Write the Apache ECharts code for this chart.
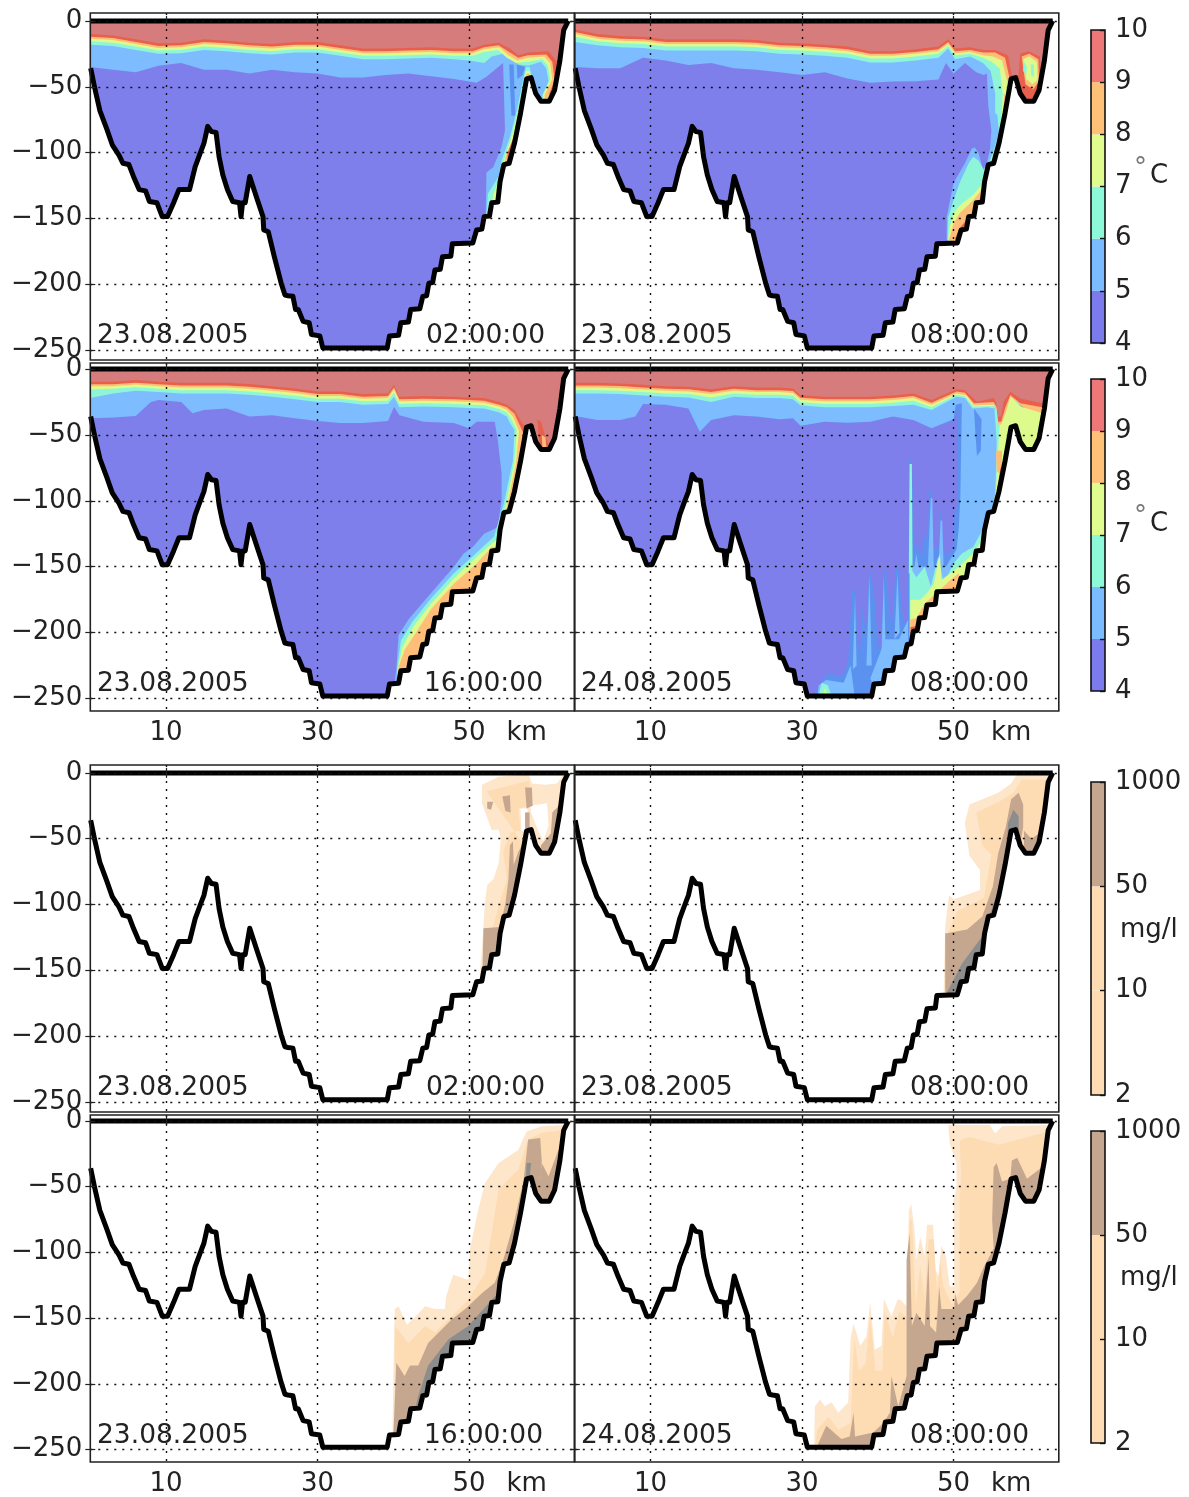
<!DOCTYPE html>
<html><head><meta charset="utf-8">
<style>html,body{margin:0;padding:0;background:#fff}#c{width:1189px;height:1497px;filter:blur(.7px)}</style>
<script src="https://cdn.jsdelivr.net/npm/echarts@6/dist/echarts.min.js"></script>
</head><body><div id="c"></div>
<script>
// ---------- bathymetry (km, depth m) ----------
const bathyKm=[0.05,0.55,1.26,2.17,2.9,3.8,4.3,5.1,5.7,6.45,7.3,7.8,8.8,9.5,10.2,11,11.7,13.1,13.85,14.5,15,15.5,16,16.6,17,17.5,18.1,18.8,19.7,19.9,20.1,20.45,21.05,21.9,22.8,22.9,23.5,24.3,25.2,25.7,26.1,26.75,27.1,27.45,28.1,28.9,29.2,30.3,30.7,39.2,39.5,40.7,41,42,42.3,43.5,43.9,44.4,44.7,45.2,45.5,46.2,46.5,47.6,47.8,50.5,51,51.7,52,52.7,53,53.8,54.1,54.6,55.3,56,56.8,57.6,58.2,58.8,59.5,60.6,61.3,62,62.5,63.1];
const bathyDepth=[-36,-50,-68,-82,-94,-102,-108,-109,-118,-128,-129,-137,-138,-148.5,-148.5,-138,-128,-128,-110.6,-100.5,-93,-80,-84,-84.6,-103,-117,-128,-137,-138,-148.5,-138,-138,-118,-133,-148.5,-158.6,-160,-179,-199,-208,-208.5,-209,-219,-219,-228,-229,-238,-239,-248.2,-248.2,-239,-238.5,-229,-228.5,-219,-218.5,-209,-208.5,-199,-198.5,-189,-188.5,-179,-178.5,-169,-168.5,-158.6,-158,-148.5,-148,-138,-137.5,-122,-109,-108,-93,-70,-44,-43,-55,-61,-61,-52.5,-30,-7,0];
const surfaceKm=[0,63.1], surfaceDepth=[0,0];

// ---------- temperature contours, 23.08 02:00 ----------
const t0Km=[0,3,6,9,12,15,18,21,24,27,30,33,36,39,42,45,48];
const t0c10=[-10,-11,-14,-17,-16.5,-14,-15,-16.5,-17.5,-16,-16,-18.5,-21,-21,-20.5,-20,-21];
const t0c9=[-12,-13,-16,-19,-18.5,-16,-17,-18.5,-19.5,-18,-18,-20.5,-23,-23,-22.5,-22,-23];
const t0c8=[-13.5,-14.5,-17.5,-20.5,-20,-17.5,-18.5,-20,-21,-19.5,-19.5,-22,-24.5,-24.5,-24,-23.5,-24.5];
const t0c7=[-15.5,-16.5,-19.5,-22.5,-22,-19.5,-20.5,-22,-23,-21.5,-21.5,-24,-26.5,-26.5,-26,-25.5,-26.5];
const t0c6=[-18,-19,-22,-25,-24.5,-22,-23,-24.5,-25.5,-24,-24,-26.5,-29,-29,-28.5,-28,-29];
const t0c5=[-35,-37,-39,-34,-32,-37,-37,-40,-37,-39,-40,-43,-43,-41,-40,-42,-44];
const t0e10=[50.5,-21,52,-18,53.9,-16.5,55.4,-21,56.5,-26,57.8,-24,60.5,-23,61.6,-31,61.8,-46,61.6,-62,64,-62];
const t0e9=[50.5,-23,52,-20,53.9,-18.5,55.4,-24,56.5,-28,57.8,-26,60.2,-25.5,61,-31,61.3,-45,60.6,-55,60.8,-66,64,-66];
const t0e8=[50.5,-24.5,52,-21.5,54,-20,55.2,-26,56.4,-30,57.8,-28,59.9,-27,60.7,-32,61,-44,60,-56,60,-66,64,-66];
const t0e7=[50.5,-26.5,52,-23.5,53.8,-22,55,-28,56.2,-32,57.8,-31,59.7,-29,60.4,-34,60.7,-44,59.8,-56,59.8,-66,64,-66];
const t0e6=[50,-30,52,-32,53,-27,54.5,-25,55.5,-28,56.5,-33,57.8,-34,59.5,-31,60.2,-36,60.5,-46,59.7,-56,59.7,-66,64,-66];
const t0e5=[51,-47,52.3,-42.3,54.5,-32,54.75,-83,54.3,-95.5,53.2,-111,52.3,-115,52.2,-147.5,53,-155,64,-155];
const t0mid=[55.3,-33,55.9,-33,56.1,-72,55.6,-72];
const t0mid2=[56.3,-33,57.4,-35,57.1,-41,56.4,-44];
const t0p6=[57.5,-35,56.3,-68,55.4,-88,54.3,-106,53.9,-118,52.5,-131,52.3,-147,53.5,-152,59,-60,58,-35];
const t0p7=[57.5,-38,56.5,-68,55.6,-88,54.6,-106,54.1,-118,53.2,-132,52.8,-147,53.5,-152,59,-60,58,-38];
const t0p8=[57.6,-40,56.6,-68,55.9,-88,54.8,-104,54.5,-118,56,-118,59,-60,58,-40];
const t0p9=[57.6,-42,56.8,-66,56.1,-85,55.1,-100,55,-112,56,-118,59,-60,58,-42];

// ---------- temperature contours, 23.08 08:00 ----------
const t1Km=[0,3,6,9,12,15,18,21,24,27,30,33,36,39,42,45,48];
const t1c10=[-6.5,-10,-11.5,-12,-14,-14,-14,-14,-14.5,-16.5,-17,-18,-19.5,-23,-23,-21.5,-19.5];
const t1c9=[-8.5,-12,-13.5,-14,-16,-16,-16,-16,-16.5,-18.5,-19,-20,-21.5,-25,-25,-23.5,-21.5];
const t1c8=[-10,-13.5,-15,-15.5,-17.5,-17.5,-17.5,-17.5,-18,-20,-20.5,-21.5,-23,-26.5,-26.5,-25,-23];
const t1c7=[-12,-15.5,-17,-17.5,-19.5,-19.5,-19.5,-19.5,-20,-22,-22.5,-23.5,-25,-28.5,-28.5,-27,-25];
const t1c6=[-16,-18.5,-20,-20.5,-22.5,-22.5,-22.5,-22.5,-23,-25,-25.5,-26.5,-28,-31.5,-31.5,-30,-28];
const t1c5=[-35,-36,-36,-28,-30,-33.5,-32,-36,-37,-39,-41,-39,-43.7,-47,-46,-45.7,-44.5];
const t1e10=[49.3,-14,50.2,-21,52.2,-20,53.9,-22,55.5,-22,57.2,-26,57.7,-41,58.6,-41,58.8,-25,59.9,-23,61.4,-27,61.7,-47,61.9,-62,64,-62];
const t1e9=[49.3,-16,50.2,-23,52.2,-22,53.9,-24,55.5,-24,56.8,-28,57.3,-41,58,-62,64,-62];
const t1e8=[49.3,-17.5,50.2,-24.5,52.2,-23.5,53.9,-26,55.2,-27,56.4,-30,57,-44,58,-62,64,-62];
const t1e7=[49.3,-19,50.2,-26,52.2,-25,53.9,-28,55,-31,56.1,-36,56.5,-55,58,-62,64,-62];
const t1e6=[49.3,-21,50.2,-29,52.2,-27,53.9,-32,54.9,-38,55.5,-55,55.5,-70,57,-75,64,-62];
const t1e5=[49,-32,50,-40,51.5,-32,53,-39,54,-41,54.4,-40,54.6,-65,55,-83,54.8,-98,54.4,-108,53.9,-113,53.3,-100,52.8,-96,52.4,-97,51.5,-108,50,-123,49.1,-149,49.1,-166,50,-172,64,-172];
const t1p6=[55.6,-60,56,-85,55.2,-100,54.6,-108,54,-113,53.3,-106,52.6,-103,52,-108,50.8,-123,50,-136,49.3,-149,49.2,-166,50,-172,53,-160,58,-70];
const t1p7=[56.5,-55,56.2,-85,55.5,-100,54.9,-108,54.2,-120,53.9,-123,52.6,-132,50.8,-140,50,-146,49.5,-156,49.3,-166,50,-172,53,-160,58,-70];
const t1p8=[56.7,-55,56.4,-85,55.7,-100,55,-112,54.3,-124,52.6,-136,50.8,-146,50,-154,49.4,-166,50,-172,53,-160,58,-70];
const t1p9=[56.9,-60,56.5,-88,55.9,-100,55.2,-110,54.6,-118,53,-142,51,-156,50.2,-165,50.5,-172,53,-160,58,-70];
const t1b8=[59,-27,60,-25,61.2,-29,61.3,-46,60.5,-52,59.5,-48];
const t1b7=[59.2,-29,60,-27,61,-31,61.1,-45,60.4,-48,59.6,-44];
const t1b6=[59.3,-31,59.7,-35,59.6,-41,59.2,-38];
const t1b6b=[60.2,-33,60.6,-33,60.6,-42,60.3,-42];

// ---------- temperature contours, 23.08 16:00 ----------
const t2Km=[0,3,6,9,12,15,18,21,24,27,30,33,36,39.3,40.1,40.8,44,48];
const t2c10=[-9.6,-9.6,-8.3,-9.6,-10.4,-10.4,-10.4,-11.4,-13,-14.7,-17,-17,-19,-18.5,-12,-21,-20.5,-21];
const t2c9=[-11.6,-11.6,-10.3,-11.6,-12.4,-12.4,-12.4,-13.4,-15,-16.7,-19,-19,-21,-20.5,-14,-23,-22.5,-23];
const t2c8=[-13,-13,-11.8,-13,-14,-14,-14,-15,-16.5,-18.2,-20.5,-20.5,-22.5,-22,-15.5,-24.5,-24,-24.5];
const t2c7=[-15.5,-15,-13.8,-15,-16,-16,-16,-17,-18.5,-20.2,-22.5,-22.5,-24.5,-24,-18,-26.5,-26,-26.5];
const t2c6=[-22,-18.5,-16.5,-17.5,-18.5,-18.5,-18.5,-19.5,-21,-23,-25,-25,-27,-26.5,-21,-29,-28.5,-29];
const t2c5Km=[0,3,6,8,9,12,13.5,15,18,21,24,27,30,33,36,39.3,40.1,40.8,44,48];
const t2c5=[-37.4,-36.7,-35.7,-25,-23.5,-25,-33.6,-31,-30,-36,-35,-37.4,-39.5,-41,-41,-39.5,-28.6,-35,-40,-41];
const t2e10=[50,-21.5,52,-22,54,-25,55,-27,56,-31,57,-41,57.5,-44,58,-70,64,-70];
const t2e9=[50,-23.5,52,-24,54,-27,55,-29,56,-34,56.8,-44,57.3,-50,58,-70,64,-70];
const t2e8=[50,-25,52,-25.5,54,-28.5,55,-31,55.8,-36,56.6,-47,56.2,-72,55.1,-102,54.5,-116,58,-120,64,-70];
const t2e7=[50,-27,52,-27.5,54,-30.5,55,-33,55.6,-38,56.3,-46,56,-70,54.9,-102,54.2,-116,58,-120,64,-70];
const t2e6=[50,-29.5,52,-30,54,-33,55,-36,55.4,-41,56,-46,55.8,-69,54.6,-102,53.3,-127,50.5,-142,48,-155,45,-174,42.5,-192,41,-206,40.5,-228,40.5,-250,64,-250];
const t2e5=[50,-45,51,-40,53.4,-40,53.8,-54,54.3,-79,54.3,-99.4,53.8,-120,52,-125,50.5,-135,49.3,-140,48,-150,45,-170,42,-190,40.7,-202,40.4,-228,40.2,-237,40.2,-258,64,-258];
const t2p7=[53.5,-130,50.5,-145,48,-159,45,-178,42.7,-195,41.2,-211,40.6,-227,40.6,-250,50,-250,56,-135];
const t2p8=[53,-135,51,-147.5,48,-163,45,-182,43,-200,41.5,-213,40.7,-226,40.7,-250,50,-250,56,-135];
const t2p9=[57.3,-50,56.4,-75,55.3,-103,54.7,-112,58,-112];
const t2b9=[59,-38,59.5,-40,60,-50,60.6,-58,59.4,-62];
const t2b8=[59.6,-50,60.1,-52,60.2,-60,59.7,-60];

// ---------- temperature contours, 24.08 08:00 ----------
const t3Km=[0,3,6,9,12,15,18,21,24,27,28.8,29.8,33,36,39,42,44.7,47.1];
const t3c10=[-10.4,-10.4,-10.9,-12,-13,-13.4,-15.4,-13,-14,-14,-14.7,-19.7,-21,-21,-21,-20,-18.5,-23.5];
const t3c9=[-12.4,-12.4,-12.9,-14,-15,-15.4,-17.4,-15,-16,-16,-16.7,-21.7,-23,-23,-23,-22,-20.5,-25.5];
const t3c8=[-14,-14,-14.5,-15.5,-16.5,-17,-19,-16.5,-17.5,-17.5,-18.2,-23.2,-24.5,-24.5,-24.5,-23.5,-22,-27];
const t3c7=[-16,-16,-16.5,-17.5,-18.5,-19,-21.5,-18.5,-19.5,-19.5,-20.2,-25.2,-26.5,-26.5,-26.5,-25.5,-24,-29];
const t3c6=[-18.5,-18.5,-19,-20,-21,-21.5,-25,-21,-22,-22,-23,-27.5,-29,-29,-29,-28,-27,-31];
const t3c5Km=[0,3,6,8,9,12,15,16.5,18,21,24,27,28.8,29.8,33,36,39,42,44.7,47.1];
const t3c5=[-35.7,-38.7,-38.7,-36,-26.5,-27,-30,-47.5,-38.7,-35,-36,-38,-37.4,-43,-40,-40.7,-40,-36,-38.7,-45];
const t3e10=[50.4,-15.4,51.5,-16,53.1,-24.8,55.3,-22,55.6,-25,55.9,-36,56.3,-36,56.6,-25,57.5,-17.2,58.8,-22.3,61.7,-26,62,-31,64,-31];
const t3e9=[50.4,-17,51.5,-18,52.7,-26,55.3,-25,55.7,-29,55.9,-40,56.3,-40,56.8,-30,57.5,-19.7,58.8,-26,61.7,-29,62,-31,64,-31];
const t3e8=[50.4,-18.5,51.7,-20,52.7,-27.5,55.3,-27,55.7,-31,55.9,-42,56.3,-42,56.9,-33,57.5,-21,59.2,-29,61.7,-33.6,62,-35,64,-35];
const t3e7=[50.4,-19.5,51.6,-21,52.6,-28.5,55.3,-28,57,-24,64,-28];
const t3e6=[50.4,-21,51.5,-22,52.5,-30,54.5,-29,55.4,-30,57,-26,64,-30];
const t3sky=[50,-39,50.6,-29,50.5,-102,50.1,-112,49.9,-137,48.9,-142,48.6,-127,48.3,-107,48,-135,47.4,-137,47.1,-92,46.8,-92,46.6,-130,46.1,-125,45.8,-145,45.4,-132,44.9,-140,44.5,-68,44.2,-68,44,-163,43.9,-203,43.2,-183,42.7,-149,42.4,-150,41.8,-198,41.3,-163,40.8,-150,40.5,-211,40.1,-211,39.4,-165,38.9,-151,38.4,-203,38,-179,37.6,-223,37,-168,36.6,-168,36.1,-221,35.5,-233,33.3,-231,32.4,-239,31.7,-247,31.7,-258,64,-258];
const t3light=[50,-38,50.3,-27,51.1,-26,50.9,-97,50.7,-120,50.4,-137,49.5,-145,49,-150,44.6,-150,44.6,-200,64,-200];
const t3lobe=[52.7,-30,53.7,-38,53.6,-62,53.1,-66,52.9,-50];
const t3core1=[47,-98,47.2,-98,47.4,-152,46.6,-152];
const t3core2=[48.3,-115,48.5,-115,48.7,-152,48,-152];
const t3core3=[45.1,-140,45.4,-152,44.8,-152];
const t3core4=[42.6,-155,42.9,-200,42.2,-205];
const t3core5=[40.8,-157,41,-205,40.5,-215];
const t3core6=[38.9,-157,39.2,-225,38.5,-225];
const t3core7=[37,-172,37.2,-225,36.7,-228];
const t3lump5=[32.2,-240,33.2,-236,35.5,-238,36.4,-225,37,-250,32,-250];
const t3lump5b=[41,-205,42.8,-205,44,-190,44,-215,40,-245,39,-235];
const t3lump6=[32.2,-248,32.6,-238,33.4,-240,33.9,-248];
const t3lump7=[32.8,-248,33,-242,33.5,-248];
const t3strip=[44.2,-72,44.5,-72,44.6,-155,44.1,-155];
const t3low6=[44.2,-150,45.1,-158,46.2,-150,47,-165,48,-142,48.7,-163,50,-147.5,51.1,-140,52.6,-135,54,-120,55.1,-107,55.5,-97,55.7,-55,55.4,-30,57,-28,58,-70,55,-130,50,-178,44.2,-215];
const t3low7=[44.3,-175,45.6,-175,46.5,-170,47.4,-163,48.2,-140,48.4,-160,50,-153,51.3,-147,52.6,-140,54,-127,55.1,-107,55.6,-92,56,-51,56.1,-41,57,-29,57.5,-22,58.4,-26,59,-29,64,-32,64,-70,58,-70,55,-130,50,-178,44.3,-215];
const t3low8=[44.3,-190,45.1,-189,46.2,-178,49.6,-160,50.7,-155,51,-175,44.3,-215];
const t3low9=[44.3,-196,45,-195,44.4,-208];
const t3sl8=[55.6,-62,56.4,-62,56.4,-80,55.7,-78];
const t3sl9=[56.2,-75,56.8,-75,56,-92,55.8,-90];

// ---------- sediment contours ----------
const s0outer=[53.9,-3,57.9,-1,58.3,-8,60.1,-9,61.6,-8,62.5,-1,64,-1,64,-160,51.5,-160,51.5,-147,51.7,-134,52.1,-99,52.4,-85,53.2,-81,53.9,-69,54.2,-50,53.9,-43,53,-43.5,51.7,-23,51.7,-9];
const s0hole1=[56.8,-27,57.7,-27,57.9,-45,56.9,-44];
const s0hole2=[58.1,-25,60.3,-23,60.5,-40,59.8,-52,59,-42,58.2,-30];
const s0mid=[52.3,-14,57.9,-6,58.3,-25,56.5,-27,56.8,-44,55.5,-45,54.5,-60,55,-80,54,-100,53,-120,52.3,-130,52.2,-150,54,-140,57,-90,56.5,-70,57,-50,57.9,-60];
const s0dark=[51.8,-147,51.9,-118,54.1,-117,54.8,-99,55.2,-81,55.4,-55,55.8,-52,55.9,-70,56.5,-60,58,-44,57,-90,54,-140,52,-155];
const s0d1=[52.4,-22,53.2,-22,52.9,-28,52.4,-27];
const s0d2=[54.4,-18,55.4,-17,55.5,-30,54.8,-29];
const s0d3=[57.4,-11,58.3,-11,58.4,-25,57.6,-27];
const s0d4=[57.4,-30,58,-30,58,-42,57.4,-42];
const s0d5=[61,-30,62,-24,62.4,-45,61,-65,59.5,-65,59.5,-55,60.8,-46];

const s1outer=[58.3,-1.5,62,-1.5,64,-1,64,-175,48.7,-175,48.7,-166,48.9,-117,49.4,-93,50.1,-96,53.5,-89,53.5,-74,52.1,-63,51.5,-38,52.1,-24,55.9,-15,57.6,-8];
const s1mid=[59,-5,62.5,-5,64,-80,50,-175,49.3,-166,49.4,-120,50.5,-105,54,-95,55,-62,53.8,-55,53,-30,56,-22,57.9,-15];
const s1dark=[48.9,-166,48.9,-122,51.8,-119,53.8,-109,55.2,-86,55.9,-61,56.9,-41,57.6,-20,58.6,-15,59.2,-24,59.2,-41,58,-80,50,-175];
const s1d2=[59.3,-44,60.3,-50,61.5,-45,61.8,-65,59.3,-65];
const s1gray=[49,-168,51.1,-145,53.8,-124,55.5,-96,56.9,-66,57.2,-38,57.9,-28,58.6,-33,58.6,-41,57.5,-90,53,-160,50,-175];

const s2outer=[39.9,-237,40,-197,40.2,-143,40.7,-141,41.8,-155,42.9,-149,44.2,-141,45.5,-143,46.8,-143,47,-133,47.9,-117,49.9,-121,50.1,-98,51.2,-68,52.1,-47.3,53.9,-32,56.5,-22,57.6,-8,59.6,-4,62.5,-3,63.2,-1,64,-1,64,-250,39.9,-250];
const s2mid=[40.2,-240,40.2,-156,42,-169,44.2,-156,45.5,-161,48.2,-146,49.9,-136,52.1,-116,53,-85,53.9,-52,56.5,-37,57.8,-14,59.6,-9,62.2,-7,64,-3,64,-250];
const s2dark=[40,-240,40.4,-184,41.5,-194,42.2,-186,43.3,-186,44.6,-169,47.7,-151,49.5,-143,51.7,-131,53.4,-123,54.5,-106,55.9,-78,57.2,-45,57.8,-14,59.4,-13,59.6,-30,59.4,-50,59,-75,44,-250,40,-250];
const s2d2=[59.6,-32,60.5,-42,61.8,-22,62.2,-17,63,-30,62,-70,59,-70];
const s2gray=[43.3,-209,44.6,-186,47.3,-166,49.9,-156,52.1,-142,54.1,-129,56,-125,53,-160,45,-215,42,-240];
const s2g2=[57.5,-45,57.6,-32,58.2,-32,58,-44];

const s3outer=[62.8,-3,56.4,-4,55.5,-9.4,54.8,-3,49.3,-3,49.5,-17,50.4,-32,50.4,-50,50,-60,50.1,-126,49.5,-126,49,-103,48.4,-95,48,-118,47.6,-113,47.3,-79,46.5,-79,46.2,-103,45.6,-88,45.1,-106,44.8,-80,44.4,-63,44.1,-68,43.8,-141,43,-136,42.6,-136,41.8,-149,40.8,-135,40.5,-171,39.6,-174,39,-138,38.5,-164,37.7,-171,36.8,-154,36.4,-166,36.1,-214,34.8,-222,33.9,-214,33,-217,32.4,-212,31.7,-217,31.6,-246,31.6,-258,64,-258,64,-3];
const s3mid=[62.5,-8,56,-18,52,-12,50.8,-15,51,-40,50.8,-60,50.8,-130,49.8,-140,48.6,-125,48.3,-105,47.8,-130,47.4,-90,46.7,-90,46.2,-135,45.6,-110,45,-140,44.5,-75,44.2,-75,44,-150,42.8,-145,42,-165,40.9,-145,40.6,-190,39.7,-190,39,-148,38.4,-185,37.5,-190,36.9,-165,36.4,-230,34.8,-235,33.5,-225,32,-235,31.7,-250,31.7,-258,64,-258,64,-8];
const s3dark=[64,-27,61.9,-27,61.7,-35,59.7,-44,58.4,-28,57.7,-30,57.5,-44,56.4,-46,55.7,-32,55.3,-35,55.1,-75,55.3,-97,54,-111,53.1,-123,51.8,-133,50.6,-140,50.2,-131,50.1,-143,48.4,-143,48.1,-126,47.7,-161,46.9,-156,46.7,-103,46.2,-156,45.1,-146,44.5,-156,44.2,-85,43.8,-106,43.8,-194,42.7,-217,41.8,-194,41.6,-222,40.7,-230,39.4,-237,37,-240,36.8,-222,36.3,-240,35.2,-242,33.2,-232,32.1,-246,32,-258,64,-258];

// ---------- labels ----------
const xTicks=[10,30,50], xUnitAt=57.6, xUnit='km';
const yTicks=[-250,-200,-150,-100,-50,0];
const tempLevels=[4,5,6,7,8,9,10];
const sedLevels=[2,10,50,1000];
const tempBands=[1,1,1,1,1,1];
const sedBands=[1,1,1];
const dates=['23.08.2005','23.08.2005','23.08.2005','24.08.2005'];
const times=['02:00:00','08:00:00','16:00:00','08:00:00'];

// ---------- styles ----------
const PUR='#7f7fec',MED='#5b92f0',LIG='#7cbcff',CYA='#8ef5d8',YEL='#ddfa8c',ORA='#ffbd78',RED='#e8604c',DRK='#d67c7c';
const SL='#fee6cb',SM='#fddcb4',SD='#c5a78f',SG='#8d8d8d';
const tempBarColors=['#7b7bee','#7abcff','#8ef9d9','#e0fb8e','#ffc078','#ee7878'];
const sedBarColors=['#fddcb4','#fddcb4','#c5a78f'];
const FONT='"DejaVu Sans"',FS=26,FS2=26.5,INK='#222';
const water=[0,0,64,0,64,-262,0,-262];

function band(km,d,tail){const p=[0,0];km.forEach((k,i)=>p.push(k,d[i]));return p.concat(tail,[64,0]);}

const panels=[
 [[PUR,water],[LIG,band(t0Km,t0c5,t0e5)],[MED,t0mid],[MED,t0mid2],[CYA,band(t0Km,t0c6,t0e6)],[CYA,t0p6],[YEL,band(t0Km,t0c7,t0e7)],[YEL,t0p7],[ORA,band(t0Km,t0c8,t0e8)],[ORA,t0p8],[RED,band(t0Km,t0c9,t0e9)],[RED,t0p9],[DRK,band(t0Km,t0c10,t0e10)]],
 [[PUR,water],[LIG,band(t1Km,t1c5,t1e5)],[CYA,band(t1Km,t1c6,t1e6)],[CYA,t1p6],[YEL,band(t1Km,t1c7,t1e7)],[YEL,t1p7],[ORA,band(t1Km,t1c8,t1e8)],[ORA,t1p8],[RED,band(t1Km,t1c9,t1e9)],[RED,t1p9],[DRK,band(t1Km,t1c10,t1e10)],[ORA,t1b8],[YEL,t1b7],[CYA,t1b6],[CYA,t1b6b]],
 [[PUR,water],[LIG,band(t2c5Km,t2c5,t2e5)],[CYA,band(t2Km,t2c6,t2e6)],[YEL,band(t2Km,t2c7,t2e7)],[YEL,t2p7],[ORA,band(t2Km,t2c8,t2e8)],[ORA,t2p8],[RED,band(t2Km,t2c9,t2e9)],[RED,t2p9],[DRK,band(t2Km,t2c10,t2e10)],[RED,t2b9],[ORA,t2b8]],
 [[PUR,water],[MED,band(t3c5Km,t3c5,t3sky)],[LIG,band(t3c5Km,t3c5,t3light)],[MED,t3lobe],[LIG,t3core1],[LIG,t3core2],[LIG,t3core3],[LIG,t3core4],[LIG,t3core5],[LIG,t3core6],[LIG,t3core7],[LIG,t3lump5],[LIG,t3lump5b],[CYA,t3strip],[CYA,t3lump6],[YEL,t3lump7],
  [CYA,band(t3Km,t3c6,t3e6)],[YEL,band(t3Km,t3c7,t3e7)],[CYA,t3low6],[YEL,t3low7],[ORA,t3low8],[RED,t3low9],[ORA,t3sl8],[RED,t3sl9],[ORA,band(t3Km,t3c8,t3e8)],[RED,band(t3Km,t3c9,t3e9)],[DRK,band(t3Km,t3c10,t3e10)]],
 [[SL,s0outer],['#ffffff',s0hole1],['#ffffff',s0hole2],[SM,s0mid],[SD,s0dark],[SD,s0d1],[SD,s0d2],[SD,s0d3],[SD,s0d4],[SD,s0d5]],
 [[SL,s1outer],[SM,s1mid],[SD,s1dark],[SD,s1d2],[SG,s1gray]],
 [[SL,s2outer],[SM,s2mid],[SD,s2dark],[SD,s2d2],[SG,s2gray],[SG,s2g2]],
 [[SL,s3outer],[SM,s3mid],[SD,s3dark]]
];
const mask=[];bathyKm.forEach((k,i)=>mask.push(k,bathyDepth[i]));mask.push(64,0,64,-262,0,-262,0,-36);

// layout
const colLeft=[90.3,574.8],colW=484;
const rows=[{top:13,h:347,ymax:6,ymin:-257.3},{top:363,h:348,ymax:4.6,ymin:-259.5},{top:765,h:347,ymax:6,ymin:-257.5},{top:1115,h:348,ymax:4.6,ymin:-259.5}];
const barTops=[[30,313],[379,312],[782,313],[1131,312]];
const grid=[],xAxis=[],yAxis=[],series=[],graphic=[];
const tick={show:true,inside:true,length:5,lineStyle:{color:INK,width:1.2}};
const dotted={type:[2,6],color:'#111',width:1.4};
function txt(t,x,y,fs,extra){graphic.push({type:'text',z:50,style:Object.assign({text:t,x:x,y:y,fill:INK,font:fs+'px '+FONT,textVerticalAlign:'middle',verticalAlign:'middle'},extra||{})});}

panels.forEach((layers,p)=>{
 const r=rows[Math.floor(p/2)],c=p%2,g=grid.length,bottom=(p>>1)%2===1,isLeft=c===0;
 grid.push({show:true,z:10,left:colLeft[c],top:r.top,width:colW,height:r.h,borderColor:INK,borderWidth:1.6,backgroundColor:'transparent'});
 const xi=xAxis.length,yi=yAxis.length;
 xAxis.push({type:'value',gridIndex:g,position:'bottom',min:0,max:63.9,z:6,
   axisLine:{show:false},axisTick:Object.assign({},tick,{customValues:xTicks}),
   axisLabel:{show:bottom,customValues:xTicks.concat([xUnitAt]),hideOverlap:false,showMinLabel:true,showMaxLabel:true,margin:9,fontFamily:FONT,fontSize:FS,color:INK,formatter:v=>v===xUnitAt?xUnit:String(v)},
   splitLine:{show:true,lineStyle:dotted}});
 xAxis.push({type:'value',gridIndex:g,position:'top',min:0,max:63.9,z:6,axisLine:{show:false},axisTick:Object.assign({},tick,{customValues:xTicks}),axisLabel:{show:false},splitLine:{show:false}});
 yAxis.push({type:'value',gridIndex:g,position:'left',min:r.ymin,max:r.ymax,z:6,
   axisLine:{show:false},axisTick:Object.assign({},tick,{customValues:yTicks}),
   axisLabel:{show:isLeft,customValues:yTicks,margin:8,padding:[7,0,0,0],fontFamily:FONT,fontSize:FS,color:INK,hideOverlap:false,formatter:v=>String(v).replace('-','\u2212')},
   splitLine:{show:true,lineStyle:dotted}});
 yAxis.push({type:'value',gridIndex:g,position:'right',min:r.ymin,max:r.ymax,z:6,axisLine:{show:false},axisTick:Object.assign({},tick,{customValues:yTicks}),axisLabel:{show:false},splitLine:{show:false}});
 const list=layers.concat([['#ffffff',mask]]);
 series.push({type:'custom',coordinateSystem:'cartesian2d',xAxisIndex:xi,yAxisIndex:yi,clip:true,silent:true,z:2,animation:false,
   data:list.map((_,i)=>[i]),
   renderItem:(prm,api)=>{const it=list[api.value(0)],pts=[];for(let i=0;i<it[1].length;i+=2)pts.push(api.coord([it[1][i],it[1][i+1]]));
     return {type:'polygon',shape:{points:pts},style:{fill:it[0],stroke:null}};}});
 series.push({type:'line',xAxisIndex:xi,yAxisIndex:yi,z:4,symbol:'none',silent:true,animation:false,clip:true,lineStyle:{color:'#000',width:5,join:'round'},data:bathyKm.map((k,i)=>[k,bathyDepth[i]])});
 series.push({type:'line',xAxisIndex:xi,yAxisIndex:yi,z:4,symbol:'none',silent:true,animation:false,clip:true,lineStyle:{color:'#000',width:5},data:surfaceKm.map((k,i)=>[k,surfaceDepth[i]])});
 const rowTxt=Math.floor(p/2)%2, base=[336,684,1088,1436][Math.floor(p/2)];
 const d=p%4; // date/time by position in the 2x2 block
 txt(dates[d],isLeft?97:581,base,FS2);
 txt(times[d],isLeft?(rowTxt?424:426):910,base,FS2);
});

// colour bars
barTops.forEach((bt,b)=>{
 const isTemp=b<2,levels=isTemp?tempLevels:sedLevels,vals=isTemp?tempBands:sedBands,cols=isTemp?tempBarColors:sedBarColors,g=grid.length;
 grid.push({show:true,z:10,left:1091,top:bt[0],width:14,height:bt[1],borderColor:'#111',borderWidth:1.6,backgroundColor:'transparent'});
 const xi=xAxis.length,yi=yAxis.length;
 xAxis.push({type:'category',gridIndex:g,data:[''],show:false});
 yAxis.push({type:'value',gridIndex:g,position:'right',min:0,max:vals.length,interval:1,z:6,axisLine:{show:false},
   axisTick:{show:true,inside:true,length:5,lineStyle:{color:'#111',width:1.4}},splitLine:{show:false},
   axisLabel:{margin:10,padding:[6,0,0,0],fontFamily:FONT,fontSize:FS,color:INK,showMinLabel:true,showMaxLabel:true,hideOverlap:false,formatter:v=>String(levels[Math.round(v)])}});
 vals.forEach((v,i)=>series.push({type:'bar',xAxisIndex:xi,yAxisIndex:yi,stack:'b'+b,barWidth:'100%',silent:true,animation:false,itemStyle:{color:cols[i]},data:[v]}));
});
[[175],[523]].forEach(y=>{txt('\u00b0',1134,y[0]-6,FS,{fill:'#777'});txt('C',1150,y[0]+1,FS);});
[930,1278].forEach(y=>txt('mg/l',1120,y,FS));

const chart=echarts.init(document.getElementById('c'),null,{renderer:'canvas',width:1189,height:1497});
chart.setOption({animation:false,backgroundColor:'#fff',grid,xAxis,yAxis,series,graphic:{elements:graphic},tooltip:{show:false}});
</script></body></html>
